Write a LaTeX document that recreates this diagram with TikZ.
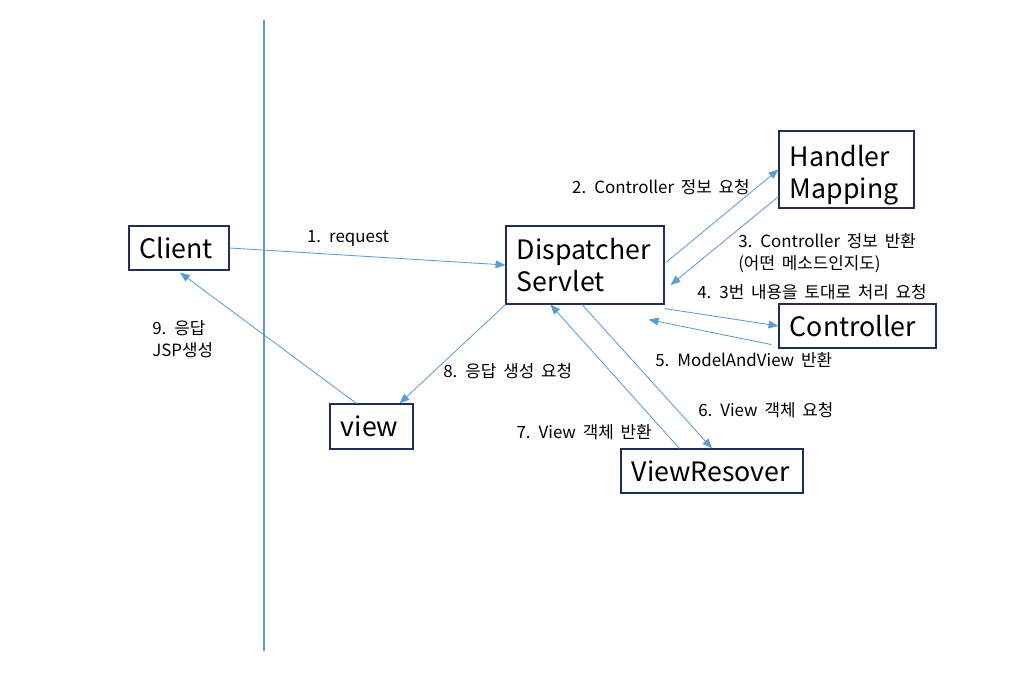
\documentclass[tikz,border=0pt]{standalone}
\usepackage{fontspec}
\setmainfont{Noto Sans CJK KR}
\newfontfamily\lblfont[WordSpace=1.8]{Noto Sans CJK KR}
\usetikzlibrary{arrows.meta,calc}
\definecolor{boxline}{HTML}{1F2D5A}
\definecolor{arrowline}{HTML}{5B9BD5}
\tikzset{
  box/.style={draw=boxline,line width=0.8pt,inner xsep=0.27cm,inner ysep=0pt,
    align=left,font=\fontsize{19}{23}\selectfont},
  flow/.style={draw=arrowline,line width=0.6pt,-{Triangle[length=7pt,width=5.5pt]}},
  lbl/.style={font=\lblfont\fontsize{12}{15.5}\selectfont,inner sep=0pt,align=left}
}
\begin{document}
\begin{tikzpicture}[x=0.025cm,y=-0.025cm]
  \useasboundingbox (0,0) rectangle (1020,674);
  \draw[arrowline,line width=0.8pt] (264,20)--(264,651);
  % boxes
  \path (179,248) node[box,text width=1.96cm,minimum height=1.1cm] (client) {Client};
  \path (585,265) node[box,text width=3.41cm,minimum height=1.95cm] (disp) {Dispatcher\\Servlet};
  \path (846.5,169.5) node[box,text width=2.835cm,minimum height=1.925cm] (hm) {\rule{0pt}{23pt}Handler\\Mapping};
  \path (857.5,326) node[box,text width=3.385cm,minimum height=1.1cm] (ctrl) {Controller};
  \path (371.5,426.5) node[box,text width=1.535cm,minimum height=1.125cm] (view) {view};
  \path (712,471) node[box,text width=4.01cm,minimum height=1.1cm] (vr) {ViewResover};
  % arrows
  \draw[flow] (client.east) -- (disp.west);
  \draw[flow] ($(disp.east)+(2,-3)$) -- (hm.west);
  \draw[flow] ($(hm.south west)+(0,-12)$) -- ($(disp.east)+(6,20)$);
  \draw[flow] ($(disp.south east)+(0,4)$) -- (ctrl.west);
  \draw[flow] ($(ctrl.south west)+(-7,-4)$) -- ($(disp.south east)+(-16,15)$);
  \draw[flow] ($(disp.south)+(-3,0)$) -- (vr.north);
  \draw[flow] ($(vr.north west)+(59,0)$) -- ($(disp.south west)+(45,0)$);
  \draw[flow] (disp.south west) -- ($(view.north east)+(-14,0)$);
  \draw[flow] ($(view.north west)+(27,0)$) -- ($(client.south)+(1,2)$);
  % labels
  \path (661,187) node[lbl] (l2) {2. Controller 정보 요청};
  \path (348,238) node[lbl] (l1) {1. request};
  \path (738,253) node[lbl,anchor=west] (l3) {3. Controller 정보 반환\\(어떤 메소드인지도)};
  \path (697,292) node[lbl,anchor=west] (l4) {4. 3번 내용을 토대로 처리 요청};
  \path (655,360) node[lbl,anchor=west] (l5) {5. ModelAndView 반환};
  \path (698,410) node[lbl,anchor=west] (l6) {6. View 객체 요청};
  \path (652,432) node[lbl,anchor=east] (l7) {7. View 객체 반환};
  \path (443,371) node[lbl,anchor=west] (l8) {8. 응답 생성 요청};
  \path (152,339) node[lbl,anchor=west] (l9) {9. 응답\\JSP생성};
\end{tikzpicture}
\end{document}
